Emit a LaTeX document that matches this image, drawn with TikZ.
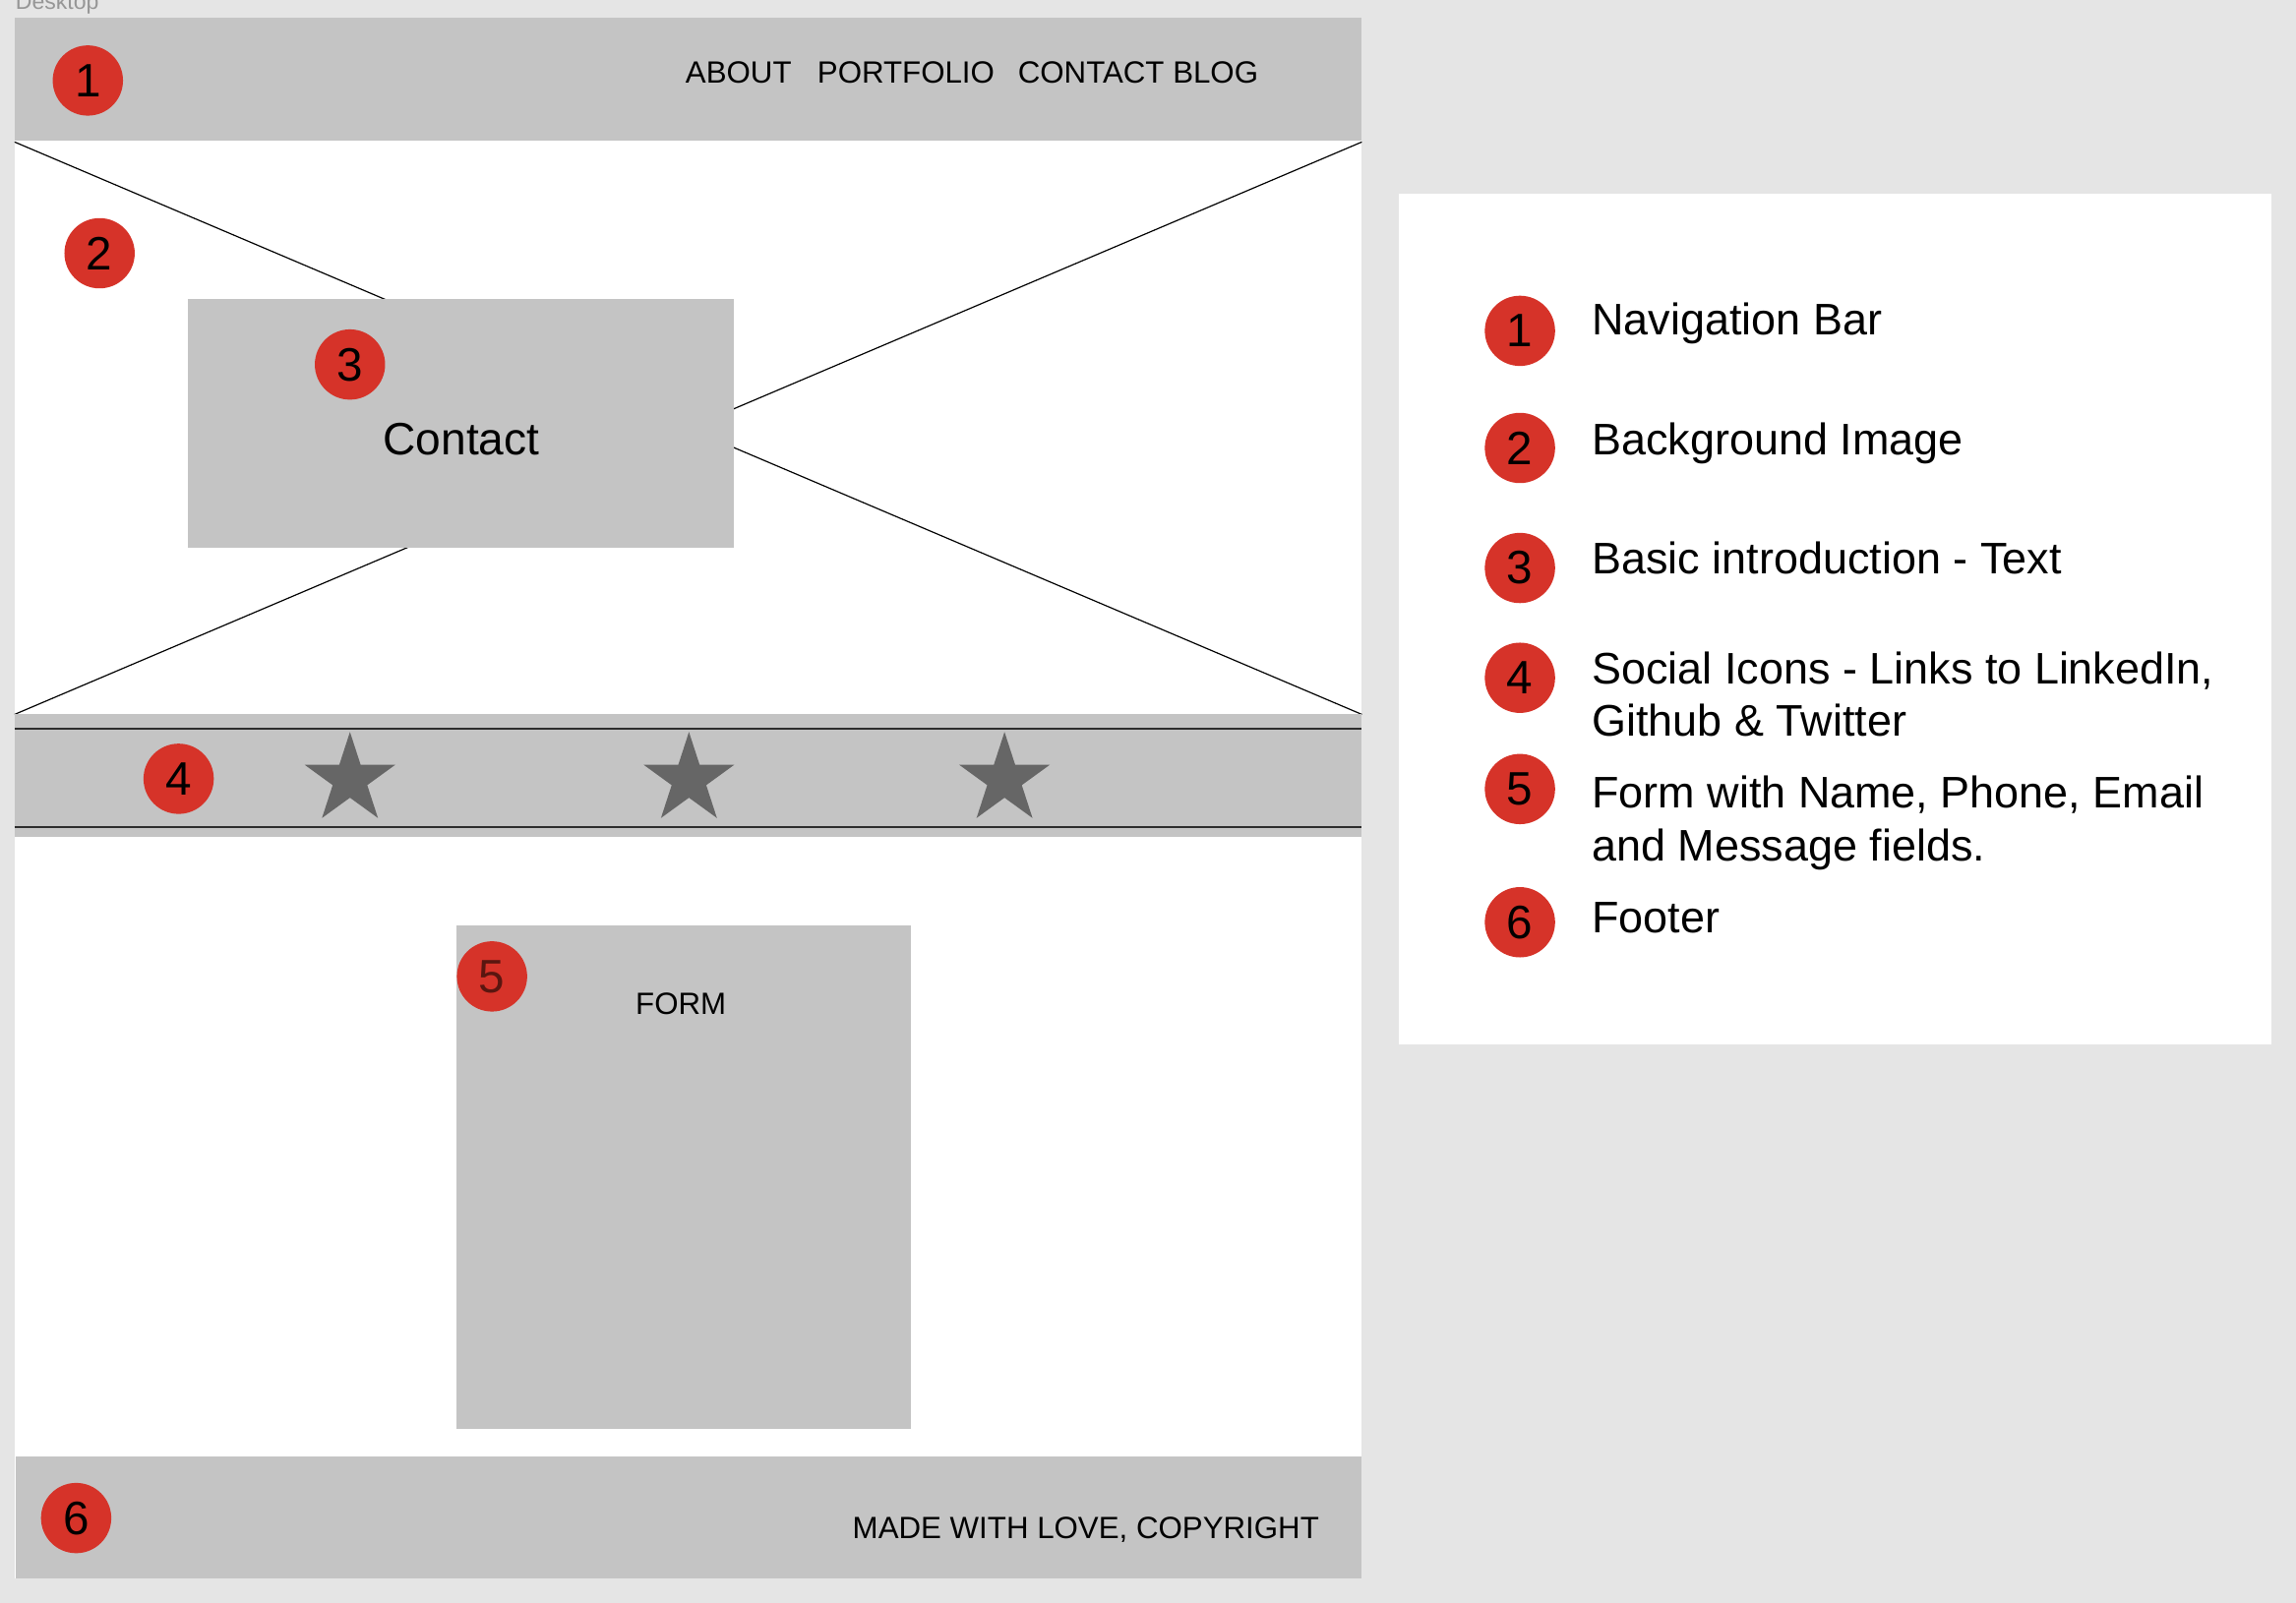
\documentclass[tikz,border=0pt]{standalone}
\usepackage{fontspec}
\setmainfont{Liberation Sans}
\usetikzlibrary{shapes.geometric}
\definecolor{pagebg}{RGB}{229,229,229}
\definecolor{boxgray}{RGB}{196,196,196}
\definecolor{badgered}{RGB}{214,51,41}
\definecolor{stargray}{RGB}{102,102,102}
\definecolor{barline}{RGB}{45,45,45}
\definecolor{labelgray}{RGB}{150,150,150}
\definecolor{darkred}{RGB}{90,22,16}
\tikzset{
  block/.style={fill=boxgray, draw=none, inner sep=0pt, outer sep=0pt},
  badge/.style={circle, fill=badgered, draw=none, minimum size=48pt, inner sep=0pt,
    font=\fontsize{32}{36}\selectfont},
  navtext/.style={inner sep=0pt, font=\fontsize{21}{26}\selectfont},
  legtext/.style={inner sep=0pt, anchor=base west,
    font=\fontsize{30.2}{36}\selectfont},
  xline/.style={line width=0.8pt, black},
  sepline/.style={line width=1.1pt, barline},
  socialstar/.style={star, star points=5, star point ratio=2.618, fill=stargray,
    draw=none, minimum size=65pt, inner sep=0pt}
}
\begin{document}
\begin{tikzpicture}[x=1pt, y=-1pt]
\useasboundingbox (0,0) rectangle (1568,1095);
\fill[pagebg] (0,0) rectangle (1568,1095);
\node[anchor=base west, inner sep=0pt, text=labelgray, font=\fontsize{15.5}{18}\selectfont] (desk) at (10.5,6.5) {Desktop};
% desktop frame
\fill[white] (10,12) rectangle (930,1078);
% image placeholder cross
\coordinate (tl) at (10,97);
\coordinate (tr) at (930,97);
\coordinate (bl) at (10,488);
\coordinate (br) at (930,488);
\draw[xline] (tl) -- (br);
\draw[xline] (tr) -- (bl);
% nav bar
\node[block, minimum width=920pt, minimum height=84pt, anchor=north west] (nav) at (10,12) {};
\node[badge] (b1) at (60,55) {1};
\node[navtext, anchor=base west] (about) at (468,57) {ABOUT};
\node[navtext, anchor=base west] (portfolio) at (558,57) {PORTFOLIO};
\node[navtext, anchor=base west] (contactblog) at (695,57) {CONTACT BLOG};
% hero
\node[badge] (b2) at (68,173) {2};
\node[block, minimum width=373pt, minimum height=170pt, anchor=north west] (contactbox) at (128,204) {};
\node[inner sep=0pt, font=\fontsize{31}{36}\selectfont] (contact) at (315,300) {Contact};
\node[badge] (b3) at (239,249) {3};
% social bar
\node[block, minimum width=920pt, minimum height=84pt, anchor=north west] (social) at (10,488) {};
\coordinate (s1l) at (10,498);
\coordinate (s1r) at (930,498);
\coordinate (s2l) at (10,565);
\coordinate (s2r) at (930,565);
\draw[sepline] (s1l) -- (s1r);
\draw[sepline] (s2l) -- (s2r);
\node[badge] (b4) at (122,532) {4};
\node[socialstar] (st1) at (239,532.5) {};
\node[socialstar] (st2) at (470.5,532.5) {};
\node[socialstar] (st3) at (686,532.5) {};
% form
\node[block, minimum width=310pt, minimum height=344pt, anchor=north west] (form) at (312,632) {};
\node[navtext] (formlabel) at (465,686) {FORM};
\node[badge, text=darkred] (b5) at (336,667) {5};
% footer
\node[block, minimum width=919pt, minimum height=83pt, anchor=north west] (footer) at (11,995) {};
\node[badge] (b6) at (52,1037) {6};
\node[navtext, anchor=base east] (copy) at (901,1051) {MADE WITH LOVE, COPYRIGHT};
% legend panel
\node[fill=white, draw=none, inner sep=0pt, minimum width=596pt, minimum height=581pt, anchor=north west] (panel) at (955,132) {};
\node[badge] (l1) at (1038,226) {1};
\node[badge] (l2) at (1038,306) {2};
\node[badge] (l3) at (1038,388) {3};
\node[badge] (l4) at (1038,463) {4};
\node[badge] (l5) at (1038,539) {5};
\node[badge] (l6) at (1038,630) {6};
\node[legtext] (t1) at (1087,229) {Navigation Bar};
\node[legtext] (t2) at (1087,311) {Background Image};
\node[legtext] (t3) at (1087,392) {Basic introduction - Text};
\node[legtext] (t4a) at (1087,467) {Social Icons - Links to LinkedIn,};
\node[legtext] (t4b) at (1087,503) {Github \& Twitter};
\node[legtext] (t5a) at (1087,552) {Form with Name, Phone, Email};
\node[legtext] (t5b) at (1087,588) {and Message fields.};
\node[legtext] (t6) at (1087,637) {Footer};
\end{tikzpicture}
\end{document}
